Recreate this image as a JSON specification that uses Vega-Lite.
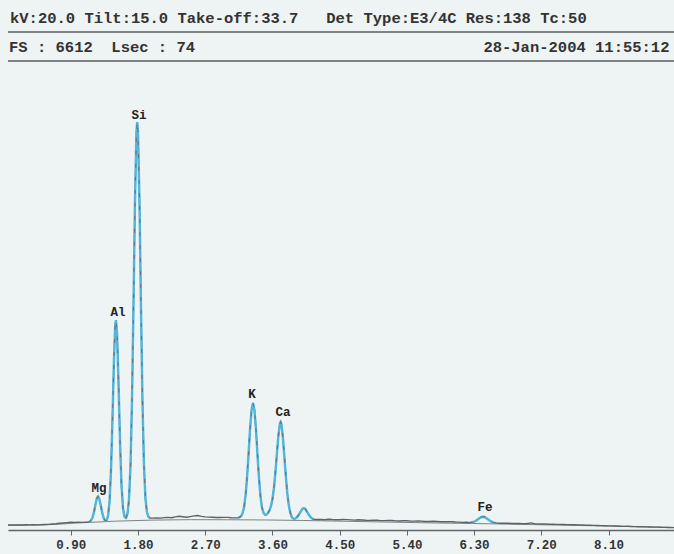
{
  "$schema": "https://vega.github.io/schema/vega-lite/v6.json",
  "width": 666,
  "height": 530,
  "autosize": {"type": "none"},
  "padding": {"left": 8, "top": 0, "right": 0, "bottom": 24},
  "background": "#eef3f3",
  "config": {"view": {"stroke": null}},
  "datasets": {
    "spectrum": [
      {"keV":0.06,"counts":70},{"keV":0.10,"counts":72},{"keV":0.15,"counts":70},{"keV":0.20,"counts":73},{"keV":0.25,"counts":71},{"keV":0.30,"counts":74},{"keV":0.35,"counts":72},{"keV":0.40,"counts":75},{"keV":0.45,"counts":73},{"keV":0.50,"counts":76},{"keV":0.55,"counts":78},{"keV":0.60,"counts":80},{"keV":0.65,"counts":84},{"keV":0.70,"counts":88},{"keV":0.75,"counts":95},{"keV":0.80,"counts":100},{"keV":0.85,"counts":105},{"keV":0.90,"counts":110},{"keV":0.95,"counts":108},{"keV":1.00,"counts":112},{"keV":1.05,"counts":108},{"keV":1.10,"counts":110},{"keV":1.13,"counts":110,"peak":"A"},
      {"keV":1.16,"counts":120,"peak":"A"},{"keV":1.19,"counts":169,"peak":"A"},{"keV":1.21,"counts":249,"peak":"A"},{"keV":1.23,"counts":357,"peak":"A"},{"keV":1.25,"counts":450,"peak":"A"},{"keV":1.265,"counts":475,"peak":"A"},{"keV":1.28,"counts":450,"peak":"A"},{"keV":1.30,"counts":357,"peak":"A"},{"keV":1.32,"counts":249,"peak":"A"},{"keV":1.34,"counts":170,"peak":"A"},{"keV":1.36,"counts":131,"peak":"A"},{"keV":1.38,"counts":134,"peak":"A"},{"keV":1.40,"counts":200,"peak":"A"},{"keV":1.42,"counts":409,"peak":"A"},{"keV":1.44,"counts":874,"peak":"A"},{"keV":1.46,"counts":1628,"peak":"A"},{"keV":1.48,"counts":2464,"peak":"A"},{"keV":1.495,"counts":2881,"peak":"A"},{"keV":1.505,"counts":2970,"peak":"A"},{"keV":1.52,"counts":2778,"peak":"A"},{"keV":1.54,"counts":2069,"peak":"A"},{"keV":1.56,"counts":1237,"peak":"A"},{"keV":1.58,"counts":621,"peak":"A"},{"keV":1.60,"counts":305,"peak":"A"},{"keV":1.62,"counts":188,"peak":"A"},{"keV":1.64,"counts":173,"peak":"A"},{"keV":1.66,"counts":232,"peak":"A"},{"keV":1.68,"counts":432,"peak":"A"},{"keV":1.70,"counts":910,"peak":"A"},{"keV":1.72,"counts":1827,"peak":"A"},{"keV":1.74,"counts":3182,"peak":"A"},{"keV":1.76,"counts":4652,"peak":"A"},{"keV":1.78,"counts":5638,"peak":"A"},{"keV":1.79,"counts":5774,"peak":"A"},{"keV":1.80,"counts":5639,"peak":"A"},{"keV":1.82,"counts":4656,"peak":"A"},{"keV":1.84,"counts":3189,"peak":"A"},{"keV":1.86,"counts":1836,"peak":"A"},{"keV":1.88,"counts":922,"peak":"A"},{"keV":1.90,"counts":448,"peak":"A"},{"keV":1.92,"counts":250,"peak":"A"},{"keV":1.94,"counts":187,"peak":"A"},{"keV":1.96,"counts":170,"peak":"A"},
      {"keV":2.00,"counts":168},{"keV":2.05,"counts":172},{"keV":2.10,"counts":168},{"keV":2.15,"counts":175},{"keV":2.20,"counts":178},{"keV":2.25,"counts":174},{"keV":2.30,"counts":185},{"keV":2.35,"counts":195},{"keV":2.40,"counts":188},{"keV":2.45,"counts":180},{"keV":2.50,"counts":190},{"keV":2.55,"counts":200},{"keV":2.60,"counts":205},{"keV":2.65,"counts":192},{"keV":2.70,"counts":185},{"keV":2.75,"counts":182},{"keV":2.80,"counts":180},{"keV":2.85,"counts":177},{"keV":2.90,"counts":176},{"keV":2.95,"counts":179},{"keV":3.00,"counts":178},{"keV":3.05,"counts":174},{"keV":3.10,"counts":172},{"keV":3.12,"counts":172},{"keV":3.14,"counts":174,"peak":"B"},
      {"keV":3.16,"counts":180,"peak":"B"},{"keV":3.18,"counts":196,"peak":"B"},{"keV":3.20,"counts":236,"peak":"B"},{"keV":3.22,"counts":322,"peak":"B"},{"keV":3.24,"counts":482,"peak":"B"},{"keV":3.26,"counts":736,"peak":"B"},{"keV":3.28,"counts":1068,"peak":"B"},{"keV":3.30,"counts":1420,"peak":"B"},{"keV":3.32,"counts":1693,"peak":"B"},{"keV":3.34,"counts":1797,"peak":"B"},{"keV":3.36,"counts":1692,"peak":"B"},{"keV":3.38,"counts":1419,"peak":"B"},{"keV":3.40,"counts":1066,"peak":"B"},{"keV":3.42,"counts":734,"peak":"B"},{"keV":3.44,"counts":479,"peak":"B"},{"keV":3.46,"counts":319,"peak":"B"},{"keV":3.48,"counts":244,"peak":"B"},{"keV":3.50,"counts":216,"peak":"B"},{"keV":3.52,"counts":218,"peak":"B"},{"keV":3.54,"counts":240,"peak":"B"},{"keV":3.56,"counts":277,"peak":"B"},{"keV":3.58,"counts":337,"peak":"B"},{"keV":3.60,"counts":435,"peak":"B"},{"keV":3.62,"counts":592,"peak":"B"},{"keV":3.64,"counts":818,"peak":"B"},{"keV":3.66,"counts":1085,"peak":"B"},{"keV":3.68,"counts":1335,"peak":"B"},{"keV":3.70,"counts":1510,"peak":"B"},{"keV":3.71,"counts":1530,"peak":"B"},{"keV":3.72,"counts":1500,"peak":"B"},{"keV":3.74,"counts":1312,"peak":"B"},{"keV":3.76,"counts":1043,"peak":"B"},{"keV":3.78,"counts":756,"peak":"B"},{"keV":3.80,"counts":510,"peak":"B"},{"keV":3.82,"counts":342,"peak":"B"},{"keV":3.84,"counts":243,"peak":"B"},{"keV":3.86,"counts":180,"peak":"B"},{"keV":3.88,"counts":160,"peak":"B"},{"keV":3.90,"counts":158,"peak":"B"},{"keV":3.92,"counts":172,"peak":"B"},{"keV":3.94,"counts":196,"peak":"B"},{"keV":3.96,"counts":228,"peak":"B"},{"keV":3.98,"counts":262,"peak":"B"},{"keV":4.00,"counts":298,"peak":"B"},{"keV":4.02,"counts":310,"peak":"B"},{"keV":4.04,"counts":298,"peak":"B"},{"keV":4.06,"counts":262,"peak":"B"},{"keV":4.08,"counts":228,"peak":"B"},{"keV":4.10,"counts":196,"peak":"B"},{"keV":4.12,"counts":172,"peak":"B"},{"keV":4.14,"counts":156,"peak":"B"},{"keV":4.16,"counts":150,"peak":"B"},
      {"keV":4.20,"counts":148},{"keV":4.25,"counts":150},{"keV":4.30,"counts":146},{"keV":4.35,"counts":152},{"keV":4.40,"counts":148},{"keV":4.45,"counts":146},{"keV":4.50,"counts":145},{"keV":4.55,"counts":149},{"keV":4.60,"counts":147},{"keV":4.65,"counts":143},{"keV":4.70,"counts":140},{"keV":4.75,"counts":144},{"keV":4.80,"counts":142},{"keV":4.85,"counts":138},{"keV":4.90,"counts":136},{"keV":4.95,"counts":139},{"keV":5.00,"counts":138},{"keV":5.05,"counts":133},{"keV":5.10,"counts":132},{"keV":5.15,"counts":135},{"keV":5.20,"counts":134},{"keV":5.25,"counts":129},{"keV":5.30,"counts":128},{"keV":5.35,"counts":131},{"keV":5.40,"counts":130},{"keV":5.45,"counts":126},{"keV":5.50,"counts":125},{"keV":5.55,"counts":127},{"keV":5.60,"counts":126},{"keV":5.65,"counts":121},{"keV":5.70,"counts":120},{"keV":5.75,"counts":123},{"keV":5.80,"counts":121},{"keV":5.85,"counts":117},{"keV":5.90,"counts":116},{"keV":5.95,"counts":119},{"keV":6.00,"counts":117},{"keV":6.05,"counts":113},{"keV":6.10,"counts":112},{"keV":6.15,"counts":108},{"keV":6.20,"counts":110},{"keV":6.24,"counts":104,"peak":"C"},
      {"keV":6.28,"counts":109,"peak":"C"},{"keV":6.32,"counts":127,"peak":"C"},{"keV":6.36,"counts":158,"peak":"C"},{"keV":6.40,"counts":184,"peak":"C"},{"keV":6.42,"counts":188,"peak":"C"},{"keV":6.44,"counts":184,"peak":"C"},{"keV":6.48,"counts":156,"peak":"C"},{"keV":6.52,"counts":125,"peak":"C"},{"keV":6.56,"counts":105,"peak":"C"},{"keV":6.60,"counts":98,"peak":"C"},
      {"keV":6.65,"counts":96},{"keV":6.70,"counts":95},{"keV":6.75,"counts":97},{"keV":6.80,"counts":92},{"keV":6.85,"counts":94},{"keV":6.90,"counts":93},{"keV":6.95,"counts":90},{"keV":7.00,"counts":88},{"keV":7.06,"counts":100},{"keV":7.12,"counts":86},{"keV":7.20,"counts":84},{"keV":7.25,"counts":85},{"keV":7.30,"counts":82},{"keV":7.35,"counts":81},{"keV":7.40,"counts":80},{"keV":7.45,"counts":79},{"keV":7.50,"counts":78},{"keV":7.55,"counts":76},{"keV":7.60,"counts":74},{"keV":7.65,"counts":75},{"keV":7.70,"counts":72},{"keV":7.75,"counts":70},{"keV":7.80,"counts":68},{"keV":7.85,"counts":69},{"keV":7.90,"counts":66},{"keV":7.95,"counts":64},{"keV":8.00,"counts":62},{"keV":8.05,"counts":61},{"keV":8.10,"counts":58},{"keV":8.15,"counts":59},{"keV":8.20,"counts":56},{"keV":8.25,"counts":54},{"keV":8.30,"counts":52},{"keV":8.35,"counts":53},{"keV":8.40,"counts":50},{"keV":8.45,"counts":48},{"keV":8.50,"counts":46},{"keV":8.55,"counts":47},{"keV":8.60,"counts":44},{"keV":8.65,"counts":42},{"keV":8.70,"counts":40},{"keV":8.75,"counts":41},{"keV":8.80,"counts":38},{"keV":8.85,"counts":37},{"keV":8.90,"counts":36},{"keV":8.976,"counts":34}
    ],
    "continuum": [
      {"keV":0.06,"counts":66},{"keV":0.5,"counts":70},{"keV":0.8,"counts":86},{"keV":1.0,"counts":100},{"keV":1.5,"counts":125},{"keV":2.0,"counts":140},{"keV":2.5,"counts":146},{"keV":3.0,"counts":145},{"keV":3.5,"counts":142},{"keV":4.0,"counts":135},{"keV":4.5,"counts":125},{"keV":5.0,"counts":115},{"keV":5.5,"counts":105},{"keV":6.0,"counts":96},{"keV":6.5,"counts":88},{"keV":7.0,"counts":78},{"keV":7.5,"counts":68},{"keV":8.0,"counts":58},{"keV":8.5,"counts":47},{"keV":8.976,"counts":36}
    ],
    "labels": [
      {"element":"Mg","keV":1.278,"counts":594},
      {"element":"Al","keV":1.533,"counts":3085},
      {"element":"Si","keV":1.814,"counts":5873},
      {"element":"K","keV":3.327,"counts":1925},
      {"element":"Ca","keV":3.742,"counts":1670},
      {"element":"Fe","keV":6.446,"counts":325}
    ],
    "header": [{}]
  },
  "layer": [
    {
      "data": {"name": "continuum"},
      "mark": {"type": "line", "color": "#7d8285", "strokeWidth": 1},
      "encoding": {
        "x": {"field": "keV", "type": "quantitative", "scale": {"domain": [0.06, 8.976], "nice": false, "zero": false},
          "axis": {"values": [0.9,1.8,2.7,3.6,4.5,5.4,6.3,7.2,8.1], "format": ".2f", "title": null, "grid": false,
            "labelFont": "Liberation Mono", "labelFontWeight": "bold", "labelFontSize": 12.5, "labelColor": "#333333",
            "labelPadding": 3, "labelDx": 3, "domainColor": "#5f6466", "domainWidth": 1.5, "tickColor": "#5f6466", "tickSize": 5, "tickWidth": 1}},
        "y": {"field": "counts", "type": "quantitative", "scale": {"domain": [0, 7500], "nice": false, "zero": true}, "axis": null}
      }
    },
    {
      "data": {"name": "spectrum"},
      "mark": {"type": "line", "color": "#5c6266", "strokeWidth": 1.4},
      "encoding": {
        "x": {"field": "keV", "type": "quantitative"},
        "y": {"field": "counts", "type": "quantitative"}
      }
    },
    {
      "data": {"name": "spectrum"},
      "transform": [{"filter": "datum.peak != null"}],
      "mark": {"type": "line", "color": "#52b6dc", "strokeWidth": 2.4},
      "encoding": {
        "x": {"field": "keV", "type": "quantitative"},
        "y": {"field": "counts", "type": "quantitative"},
        "detail": {"field": "peak"}
      }
    },
    {
      "data": {"name": "spectrum"},
      "transform": [{"filter": "datum.peak != null"}],
      "mark": {"type": "line", "color": "#6a7378", "strokeWidth": 1.1, "strokeDash": [4, 9]},
      "encoding": {
        "x": {"field": "keV", "type": "quantitative"},
        "y": {"field": "counts", "type": "quantitative"},
        "detail": {"field": "peak"}
      }
    },
    {
      "data": {"name": "labels"},
      "mark": {"type": "text", "font": "Liberation Mono", "fontWeight": "bold", "fontSize": 12.5, "color": "#222222", "baseline": "middle", "align": "center"},
      "encoding": {
        "x": {"field": "keV", "type": "quantitative"},
        "y": {"field": "counts", "type": "quantitative"},
        "text": {"field": "element"}
      }
    },
    {
      "data": {"name": "header"},
      "mark": {"type": "rule", "color": "#5a5e60", "strokeWidth": 1.6},
      "encoding": {"y": {"datum": 7047, "type": "quantitative"}}
    },
    {
      "data": {"name": "header"},
      "mark": {"type": "rule", "color": "#5a5e60", "strokeWidth": 1.6},
      "encoding": {"y": {"datum": 6637, "type": "quantitative"}}
    },
    {
      "data": {"name": "header"},
      "mark": {"type": "text", "text": "kV:20.0 Tilt:15.0 Take-off:33.7\u00a0\u00a0\u00a0Det Type:E3/4C Res:138 Tc:50", "font": "Liberation Mono", "fontWeight": "bold", "fontSize": 15.5, "color": "#333333", "align": "left", "baseline": "middle"},
      "encoding": {"x": {"datum": 0.087, "type": "quantitative"}, "y": {"datum": 7245, "type": "quantitative"}}
    },
    {
      "data": {"name": "header"},
      "mark": {"type": "text", "text": "FS : 6612\u00a0\u00a0Lsec : 74", "font": "Liberation Mono", "fontWeight": "bold", "fontSize": 15.5, "color": "#333333", "align": "left", "baseline": "middle"},
      "encoding": {"x": {"datum": 0.074, "type": "quantitative"}, "y": {"datum": 6828, "type": "quantitative"}}
    },
    {
      "data": {"name": "header"},
      "mark": {"type": "text", "text": "28-Jan-2004 11:55:12", "font": "Liberation Mono", "fontWeight": "bold", "fontSize": 15.5, "color": "#333333", "align": "right", "baseline": "middle"},
      "encoding": {"x": {"datum": 8.915, "type": "quantitative"}, "y": {"datum": 6828, "type": "quantitative"}}
    }
  ]
}
